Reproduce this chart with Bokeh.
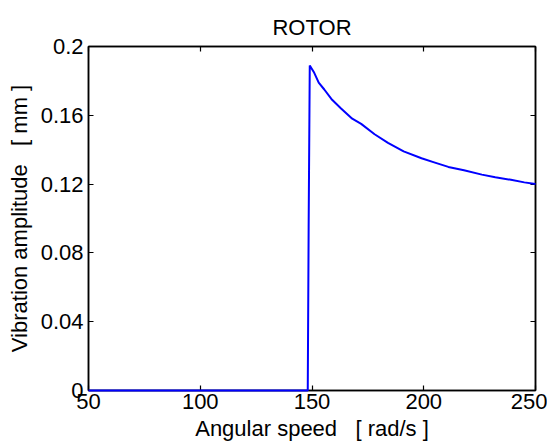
from bokeh.plotting import figure
from bokeh.models import LinearAxis, FixedTicker, Range1d
from bokeh.embed import file_html
from bokeh.resources import INLINE

# Data
speed = [50, 148.1, 148.5, 149.0, 151, 153, 155.5, 159, 163, 168, 172, 178, 184,
         191, 199, 205, 211, 218, 226, 232, 239, 245, 250]
amplitude = [0.0, 0.0, 0.095, 0.189, 0.1847, 0.179, 0.175, 0.169, 0.164, 0.158, 0.155,
             0.149, 0.144, 0.139, 0.135, 0.1325, 0.130, 0.128, 0.1255, 0.124, 0.1225,
             0.121, 0.120]

x_ticks = [50, 100, 150, 200, 250]
y_ticks = [0.0, 0.04, 0.08, 0.12, 0.16, 0.2]
y_tick_labels = ["0", "0.04", "0.08", "0.12", "0.16", "0.2"]

title_text = "ROTOR"
x_label = "Angular speed \u00a0 [ rad/s ]"
y_label = "Vibration amplitude \u00a0 [ mm ]"

FONT = "Liberation Sans"

p = figure(width=547, height=448, output_backend="svg", toolbar_location=None,
           x_range=Range1d(50, 250), y_range=Range1d(0, 0.2),
           min_border_left=88, min_border_right=12, min_border_top=46,
           min_border_bottom=58, x_axis_label=x_label, y_axis_label=y_label)

p.title.text = title_text
p.title.align = "center"
p.title.vertical_align = "top"
p.title.text_font = FONT
p.title.text_font_size = "22px"
p.title.text_font_style = "normal"
p.title.text_color = "black"
p.title.standoff = 10

p.xgrid.visible = False
p.ygrid.visible = False
p.background_fill_color = "white"
p.border_fill_color = "white"
p.outline_line_color = "black"
p.outline_line_width = 1.5

p.line(speed, amplitude, line_color="#0000ff", line_width=2, level="overlay")

overrides = {v: s for v, s in zip(y_ticks, y_tick_labels)}

for ax in p.xaxis:
    ax.ticker = FixedTicker(ticks=x_ticks)
for ax in p.yaxis:
    ax.ticker = FixedTicker(ticks=y_ticks)
    ax.major_label_overrides = overrides

for ax in list(p.xaxis) + list(p.yaxis):
    ax.axis_line_color = "black"
    ax.axis_line_width = 1.5
    ax.major_tick_in = 5
    ax.major_tick_out = 0
    ax.major_tick_line_color = "black"
    ax.major_tick_line_width = 1.2
    ax.minor_tick_line_color = None
    ax.major_label_text_font = FONT
    ax.major_label_text_font_size = "22px"
    ax.major_label_text_color = "black"
    ax.axis_label_text_font = FONT
    ax.axis_label_text_font_size = "22px"
    ax.axis_label_text_font_style = "normal"
    ax.axis_label_text_color = "black"

p.xaxis.major_label_standoff = 3
p.xaxis.axis_label_standoff = 4
p.yaxis.major_label_standoff = 5
p.yaxis.axis_label_standoff = 6

# mirrored axes (ticks only, no visible labels) on top and right
def mirror(ticks):
    return LinearAxis(ticker=FixedTicker(ticks=ticks), major_label_text_font_size="1px",
                      major_label_text_color=None, major_tick_in=5, major_tick_out=0,
                      minor_tick_line_color=None, major_label_standoff=0,
                      axis_line_color="black", axis_line_width=1.5,
                      major_tick_line_color="black", major_tick_line_width=1.2)

p.add_layout(mirror(x_ticks), "above")
p.add_layout(mirror(y_ticks), "right")

open("out.html", "w").write(file_html(p, INLINE))
